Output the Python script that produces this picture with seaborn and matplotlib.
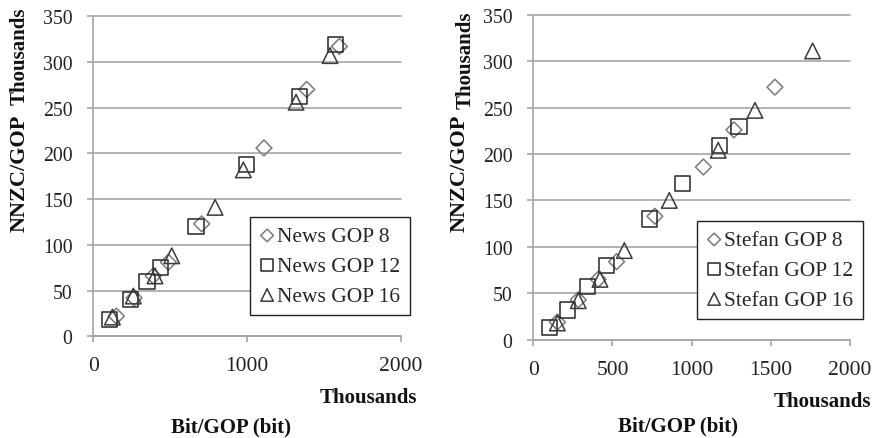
import matplotlib
matplotlib.use("Agg")
import matplotlib.pyplot as plt
import seaborn as sns
import pandas as pd

# ---- data (values in thousands) ----
news_gop8_x = [150, 265, 390, 488, 705, 1110, 1388, 1601]
news_gop8_y = [22, 42, 66, 81, 123, 206, 270, 317]
news_gop12_x = [108, 239, 349, 438, 668, 998, 1340, 1575]
news_gop12_y = [18, 40, 60, 75, 120, 188, 262, 319]
news_gop16_x = [124, 260, 401, 510, 792, 976, 1319, 1540]
news_gop16_y = [21, 44, 66, 88, 141, 182, 256, 307]

stefan_gop8_x = [152, 284, 410, 526, 768, 1074, 1267, 1526]
stefan_gop8_y = [19, 43, 65, 84, 133, 186, 226, 272]
stefan_gop12_x = [105, 215, 345, 463, 733, 943, 1175, 1299]
stefan_gop12_y = [13, 32, 57, 80, 130, 168, 209, 230]
stefan_gop16_x = [152, 284, 421, 575, 859, 1168, 1400, 1764]
stefan_gop16_y = [18, 42, 65, 96, 150, 204, 247, 311]

news_labels = ["News GOP 8", "News GOP 12", "News GOP 16"]
stefan_labels = ["Stefan GOP 8", "Stefan GOP 12", "Stefan GOP 16"]

sns.set_theme(style="white")
plt.rcParams["font.family"] = ["Liberation Serif", "DejaVu Serif"]

GRID = "#a6a6a6"
styles = [
    dict(marker="D", s=65, edgecolor="#7a7a7a"),
    dict(marker="s", s=118, edgecolor="#262626"),
    dict(marker="^", s=125, edgecolor="#3a3a3a"),
]

fig = plt.figure(figsize=(8.79, 4.39), dpi=100)


def panel(rect, xs, ys, labels, xticks, leg_anchor):
    ax = fig.add_axes(rect)
    for x, y, lab, st in zip(xs, ys, labels, styles):
        df = pd.DataFrame({"x": x, "y": y})
        sns.scatterplot(data=df, x="x", y="y", ax=ax, marker=st["marker"],
                        s=st["s"], facecolor="none", edgecolor=st["edgecolor"],
                        linewidth=1.1, label=lab, zorder=3, clip_on=False)
    ax.set_xlim(0, 2000)
    ax.set_ylim(0, 350)
    ax.set_xticks(xticks)
    ax.set_yticks(range(0, 351, 50))
    ax.set_xlabel("")
    ax.set_ylabel("")
    ax.yaxis.grid(True, color=GRID, linewidth=1.2)
    for gl in ax.yaxis.get_gridlines():
        gl.set_clip_on(False)
    ax.xaxis.grid(False)
    for side in ("top", "right"):
        ax.spines[side].set_visible(False)
    for side in ("left", "bottom"):
        ax.spines[side].set_color(GRID)
        ax.spines[side].set_linewidth(1.2)
    ax.tick_params(axis="both", which="major", direction="out", length=4.5,
                   width=1.2, color=GRID, labelcolor="#222222")
    ax.tick_params(axis="x", bottom=True, pad=10, labelsize=15.5)
    ax.tick_params(axis="y", left=True, pad=10.5, labelsize=14.2)
    handles, labs = ax.get_legend_handles_labels()
    ax.get_legend().remove()
    fig.legend(handles, labs, loc="upper left",
               bbox_to_anchor=leg_anchor, bbox_transform=fig.transFigure,
               borderaxespad=0, frameon=True, fancybox=False, shadow=False,
               edgecolor="#222222", framealpha=1, fontsize=15.5,
               handlelength=0.75, handletextpad=0.1, labelspacing=0.45,
               borderpad=0.42, markerscale=0.8)
    return ax


ax1 = panel([0.1062, 0.2317, 0.3497, 0.7289],
            [news_gop8_x, news_gop12_x, news_gop16_x],
            [news_gop8_y, news_gop12_y, news_gop16_y],
            news_labels, [0, 1000, 2000], (250 / 879, 1 - 218 / 439))
ax2 = panel([0.6067, 0.2239, 0.3603, 0.7403],
            [stefan_gop8_x, stefan_gop12_x, stefan_gop16_x],
            [stefan_gop8_y, stefan_gop12_y, stefan_gop16_y],
            stefan_labels, [0, 500, 1000, 1500, 2000], (697 / 879, 1 - 222 / 439))

big = dict(fontsize=16, fontweight="bold", color="#111111")
bold = dict(fontsize=15, fontweight="bold", color="#111111")
# axis titles, with Excel-style "Thousands" display-unit captions
fig.text(20 / 879, 1 - 173 / 439, "NNZC/GOP", rotation=90, ha="center", va="center", **big)
fig.text(20 / 879, 1 - 56 / 439, "Thousands", rotation=90, ha="center", va="center", **bold)
fig.text(368 / 879, 1 - 398 / 439, "Thousands", ha="center", va="center", **bold)
fig.text(231 / 879, 1 - 427 / 439, "Bit/GOP (bit)", ha="center", va="center", **bold)

fig.text(460 / 879, 1 - 173 / 439, "NNZC/GOP", rotation=90, ha="center", va="center", **big)
fig.text(466 / 879, 1 - 60 / 439, "Thousands", rotation=90, ha="center", va="center", **bold)
fig.text(822 / 879, 1 - 402 / 439, "Thousands", ha="center", va="center", **bold)
fig.text(678 / 879, 1 - 426 / 439, "Bit/GOP (bit)", ha="center", va="center", **bold)

fig.savefig("out.png", dpi=100)
